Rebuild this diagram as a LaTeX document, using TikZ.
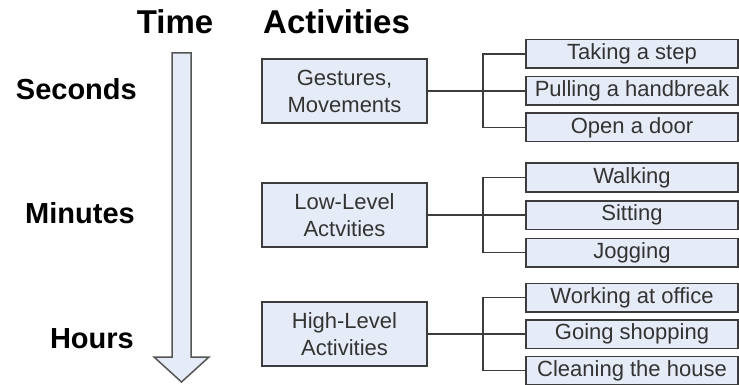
\documentclass[tikz,border=0pt]{standalone}
\usepackage{fontspec}
\setmainfont{Liberation Sans}

\definecolor{boxfill}{HTML}{E6ECF7}
\definecolor{boxline}{HTML}{3C3C3C}
\definecolor{boxtext}{HTML}{333333}
\definecolor{arrowline}{HTML}{555555}

\begin{document}
\begin{tikzpicture}[x=1pt,y=-1pt,
  heading/.style={font=\bfseries\fontsize{33}{36}\selectfont, inner sep=0},
  timelabel/.style={font=\bfseries\fontsize{29}{32}\selectfont, inner sep=0, anchor=base east},
  catbox/.style={draw=boxline, fill=boxfill, line width=1.5pt, minimum width=165pt,
    minimum height=64pt, align=center, text=boxtext, inner sep=0,
    font=\fontsize{22}{27}\selectfont},
  actbox/.style={draw=boxline, fill=boxfill, line width=1.5pt, minimum width=212pt,
    minimum height=28.5pt, text=boxtext, inner sep=0,
    font=\fontsize{22}{26}\selectfont},
  link/.style={draw=boxline, line width=1.4pt}
]
\useasboundingbox (0,0) rectangle (739,385);

% headings
\node[heading, anchor=base] (time) at (175,34) {Time};
\node[heading, anchor=base west] (act) at (263,34) {Activities};

% time arrow
\draw[draw=arrowline, fill=boxfill, line width=1.5pt, line join=miter]
  (172,53) -- (191,53) -- (191,357) -- (209,357) -- (181.5,382)
  -- (154,357) -- (172,357) -- cycle;

% time scale labels
\node[timelabel] (sec) at (137,100) {Seconds};
\node[timelabel] (min) at (135,223) {Minutes};
\node[timelabel] (hrs) at (134,348) {Hours};

% activity categories
\node[catbox] (g1) at (344.5,91) {Gestures,\\Movements};
\node[catbox] (g2) at (344.5,215) {Low-Level\\Actvities};
\node[catbox] (g3) at (344.5,334) {High-Level\\Activities};

% concrete activities
\node[actbox] (a1) at (632,54) {Taking a step};
\node[actbox] (a2) at (632,91) {Pulling a handbreak};
\node[actbox] (a3) at (632,127.5) {Open a door};

\node[actbox] (b1) at (632,177.5) {Walking};
\node[actbox] (b2) at (632,215) {Sitting};
\node[actbox] (b3) at (632,252.5) {Jogging};

\node[actbox] (c1) at (632,297.5) {Working at office};
\node[actbox] (c2) at (632,334) {Going shopping};
\node[actbox] (c3) at (632,370.5) {Cleaning the house};

% branch points
\coordinate (j1) at (483,91);
\coordinate (j2) at (483,215);
\coordinate (j3) at (483,334);

% connectors
\draw[link] (g1.east) -- (a2.west);
\draw[link] (a1.west) -- (a1.west -| j1) |- (a3.west);
\draw[link] (g2.east) -- (b2.west);
\draw[link] (b1.west) -- (b1.west -| j2) |- (b3.west);
\draw[link] (g3.east) -- (c2.west);
\draw[link] (c1.west) -- (c1.west -| j3) |- (c3.west);
\end{tikzpicture}
\end{document}
